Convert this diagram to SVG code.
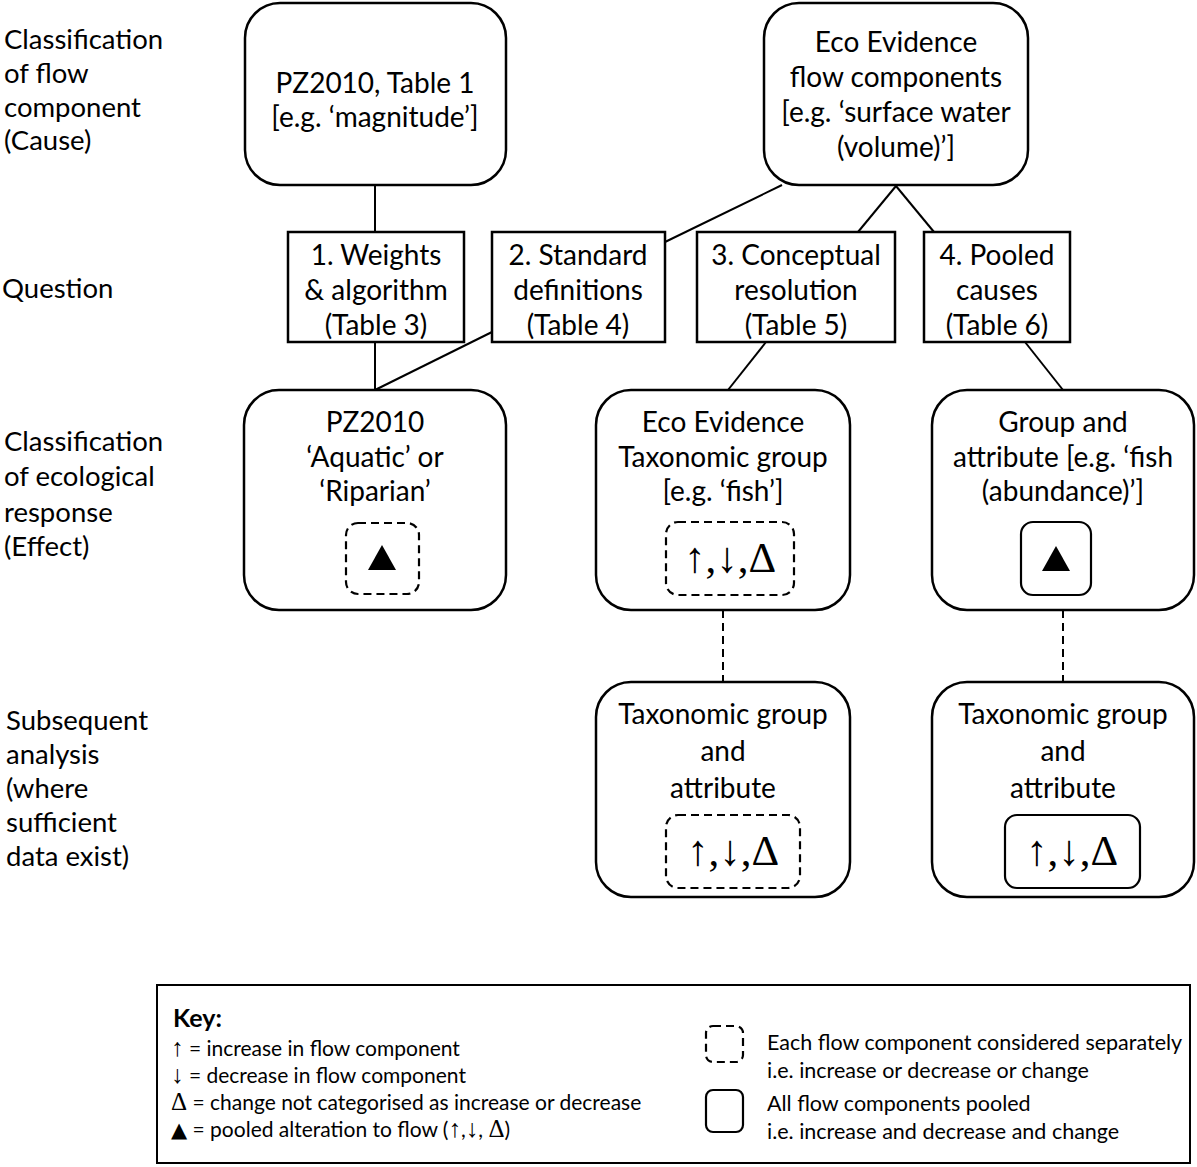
<svg xmlns="http://www.w3.org/2000/svg" width="1197" height="1167" viewBox="0 0 1197 1167">
<style>
.box{fill:#fff;stroke:#000;stroke-width:2.5}
.dash{fill:none;stroke:#000;stroke-width:2.2;stroke-dasharray:8,5}
.solid{fill:none;stroke:#000;stroke-width:2.2}
.ln{stroke:#000;stroke-width:2;fill:none}
.dl{stroke:#000;stroke-width:2;fill:none;stroke-dasharray:8,5}
text{font-family:Lato,"Liberation Sans",sans-serif;fill:#000}
.t{font-size:28px;text-anchor:middle}
.lab{font-size:27.5px}
.sym{font-family:"Liberation Serif","DejaVu Serif",serif;font-size:43px;text-anchor:middle}
.k{font-size:21.5px}
.kl{font-size:21px}
.ks{font-family:"Liberation Serif","DejaVu Serif",serif;font-size:25px}
</style>
<rect x="0" y="0" width="1197" height="1167" fill="#fff"/>
<g id="row-labels">
<text class="lab" x="4" y="49">Classification</text>
<text class="lab" x="4" y="83">of flow</text>
<text class="lab" x="4" y="117">component</text>
<text class="lab" x="4" y="150">(Cause)</text>
<text class="lab" x="2" y="298">Question</text>
<text class="lab" x="4" y="451">Classification</text>
<text class="lab" x="4" y="486">of ecological</text>
<text class="lab" x="4" y="522">response</text>
<text class="lab" x="4" y="556">(Effect)</text>
<text class="lab" x="6" y="730">Subsequent</text>
<text class="lab" x="6" y="764">analysis</text>
<text class="lab" x="6" y="798">(where</text>
<text class="lab" x="6" y="832">sufficient</text>
<text class="lab" x="6" y="866">data exist)</text>
</g>
<g id="connectors">
<line class="ln" x1="375" y1="185" x2="375" y2="232"/>
<line class="ln" x1="375" y1="342" x2="375" y2="390"/>
<line class="ln" x1="492" y1="332" x2="375" y2="390"/>
<line class="ln" x1="782" y1="185" x2="665" y2="242"/>
<line class="ln" x1="896" y1="186" x2="858" y2="232"/>
<line class="ln" x1="896" y1="186" x2="934" y2="232"/>
<line class="ln" x1="766" y1="342" x2="728" y2="390"/>
<line class="ln" x1="1025" y1="342" x2="1063" y2="390"/>
<line class="dl" x1="723" y1="610" x2="723" y2="682"/>
<line class="dl" x1="1063" y1="610" x2="1063" y2="682"/>
</g>
<g id="pz2010-table1">
<rect class="box" x="245" y="3" width="261" height="182" rx="35"/>
<text class="t" x="375" y="93">PZ2010, Table 1</text>
<text class="t" x="375" y="127">[e.g. ‘magnitude’]</text>
</g>
<g id="eco-flow">
<rect class="box" x="764" y="3" width="264" height="182" rx="35"/>
<text class="t" x="896" y="52">Eco Evidence</text>
<text class="t" x="896" y="87">flow components</text>
<text class="t" x="896" y="122">[e.g. ‘surface water</text>
<text class="t" x="896" y="157">(volume)’]</text>
</g>
<g id="q1">
<rect class="box" x="288" y="232" width="176" height="110"/>
<text class="t" x="376" y="265">1. Weights</text>
<text class="t" x="376" y="300">&amp; algorithm</text>
<text class="t" x="376" y="335">(Table 3)</text>
</g>
<g id="q2">
<rect class="box" x="492" y="232" width="173" height="110"/>
<text class="t" x="578" y="265">2. Standard</text>
<text class="t" x="578" y="300">definitions</text>
<text class="t" x="578" y="335">(Table 4)</text>
</g>
<g id="q3">
<rect class="box" x="697" y="232" width="198" height="110"/>
<text class="t" x="796" y="265">3. Conceptual</text>
<text class="t" x="796" y="300">resolution</text>
<text class="t" x="796" y="335">(Table 5)</text>
</g>
<g id="q4">
<rect class="box" x="924" y="232" width="146" height="110"/>
<text class="t" x="997" y="265">4. Pooled</text>
<text class="t" x="997" y="300">causes</text>
<text class="t" x="997" y="335">(Table 6)</text>
</g>
<g id="pz2010-effect">
<rect class="box" x="244" y="390" width="262" height="220" rx="35"/>
<text class="t" x="375" y="432">PZ2010</text>
<text class="t" x="375" y="467">‘Aquatic’ or</text>
<text class="t" x="375" y="501">‘Riparian’</text>
<rect class="dash" x="346" y="523" width="73" height="71" rx="12"/>
<polygon points="382,545 396,570 368,570" fill="#000"/>
</g>
<g id="eco-taxon">
<rect class="box" x="596" y="390" width="254" height="220" rx="35"/>
<text class="t" x="723" y="432">Eco Evidence</text>
<text class="t" x="723" y="467">Taxonomic group</text>
<text class="t" x="723" y="501">[e.g. ‘fish’]</text>
<rect class="dash" x="666" y="522" width="128" height="73" rx="12"/>
<text class="sym" x="730" y="572">↑,↓,Δ</text>
</g>
<g id="group-attr">
<rect class="box" x="932" y="390" width="262" height="220" rx="35"/>
<text class="t" x="1063" y="432">Group and</text>
<text class="t" x="1063" y="467">attribute [e.g. ‘fish</text>
<text class="t" x="1063" y="501">(abundance)’]</text>
<rect class="solid" x="1021" y="522" width="70" height="73" rx="12"/>
<polygon points="1056,546 1070,571 1042,571" fill="#000"/>
</g>
<g id="subseq-sep">
<rect class="box" x="596" y="682" width="254" height="215" rx="35"/>
<text class="t" x="723" y="724">Taxonomic group</text>
<text class="t" x="723" y="761">and</text>
<text class="t" x="723" y="798">attribute</text>
<rect class="dash" x="666" y="815" width="134" height="73" rx="12"/>
<text class="sym" x="733" y="865">↑,↓,Δ</text>
</g>
<g id="subseq-pooled">
<rect class="box" x="932" y="682" width="262" height="215" rx="35"/>
<text class="t" x="1063" y="724">Taxonomic group</text>
<text class="t" x="1063" y="761">and</text>
<text class="t" x="1063" y="798">attribute</text>
<rect class="solid" x="1005" y="815" width="135" height="73" rx="12"/>
<text class="sym" x="1072" y="865">↑,↓,Δ</text>
</g>
<g id="key">
<rect x="157" y="985" width="1033" height="178" fill="#fff" stroke="#000" stroke-width="2"/>
<text x="173" y="1027" font-weight="bold" font-size="25">Key:</text>
<text class="kl" x="171" y="1056"><tspan class="ks">↑</tspan> = increase in flow component</text>
<text class="kl" x="171" y="1083"><tspan class="ks">↓</tspan> = decrease in flow component</text>
<text class="kl" x="171" y="1110"><tspan class="ks">Δ</tspan> = change not categorised as increase or decrease</text>
<text class="kl" x="171" y="1137"><tspan font-family="DejaVu Sans">▲</tspan> = pooled alteration to flow (<tspan class="ks">↑</tspan>,<tspan class="ks">↓</tspan>, <tspan class="ks">Δ</tspan>)</text>
<rect class="dash" x="706" y="1026" width="37" height="36" rx="7" stroke-width="2"/>
<rect class="solid" x="706" y="1090" width="37" height="42" rx="7" stroke-width="2"/>
<text class="k" x="767" y="1050">Each flow component considered separately</text>
<text class="k" x="767" y="1078">i.e. increase or decrease or change</text>
<text class="k" x="767" y="1111">All flow components pooled</text>
<text class="k" x="767" y="1139">i.e. increase and decrease and change</text>
</g>
</svg>
